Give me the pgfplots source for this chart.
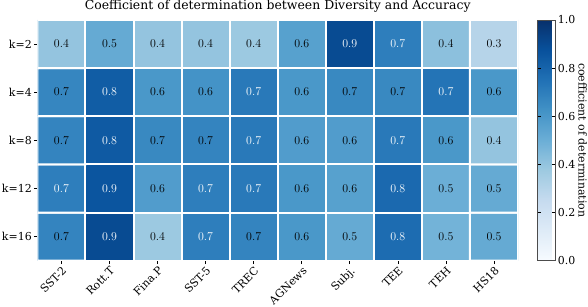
\documentclass[border=0pt]{standalone}
\usepackage{pgfplots}
\pgfplotsset{compat=1.18}
\usepackage{fontspec}
\setmainfont{DejaVu Serif}
\pgfplotsset{colormap={mblues}{rgb255=(247,251,255) rgb255=(222,235,247) rgb255=(198,219,239) rgb255=(158,202,225) rgb255=(107,174,214) rgb255=(66,146,198) rgb255=(33,113,181) rgb255=(8,81,156) rgb255=(8,48,107)}}
\begin{document}
\begin{tikzpicture}
\begin{axis}[
  at={(0,0)}, anchor=south west,
  scale only axis,
  width=483pt, height=242pt,
  xmin=-0.5, xmax=9.5, ymin=-0.5, ymax=4.5,
  colormap name=mblues,
  point meta min=0, point meta max=1,
  axis line style={draw=none},
  xtick={0,...,9},
  xticklabels={SST-2,Rott.T,Fina.P,SST-5,TREC,AGNews,Subj.,TEE,TEH,HS18},
  ytick={0,...,4},
  yticklabels={k=16,k=12,k=8,k=4,k=2},
  xtick pos=bottom, ytick pos=left,
  tick align=outside,
  major tick length=3.5pt,
  tick style={black, line width=0.6pt},
  xticklabel style={rotate=45, anchor=north east, font=\fontsize{11}{13}\selectfont, inner sep=1pt},
  yticklabel style={font=\fontsize{11}{13}\selectfont, inner sep=2pt},
  title={Coefficient of determination between Diversity and Accuracy},
  title style={font=\fontsize{12.5}{15}\selectfont, at={(0.5,1)}, anchor=base, yshift=4.5pt, inner sep=0pt},
  colorbar,
  colorbar style={
    at={(parent axis.north east)}, anchor=north west, xshift=11pt,
    width=18.4pt,
    ytick={0,0.2,...,1.0},
    yticklabel style={/pgf/number format/.cd, fixed, precision=1, fixed zerofill, /tikz/.cd, font=\fontsize{11}{13}\selectfont, inner sep=2pt},
    /pgf/number format/assume math mode=true,
    major tick length=3.5pt,
    tick style={black, line width=0.6pt},
    axis line style={draw=black!70, line width=0.7pt},
    ylabel={coefficient of determination},
    ylabel style={rotate=180, font=\fontsize{11}{13}\selectfont, inner sep=1pt},
  },
]
\addplot[matrix plot*, mesh/cols=10, point meta=explicit, draw=white, line width=2pt]
table[meta=c] {
x y c
0 0 0.68
1 0 0.90
2 0 0.38
3 0 0.70
4 0 0.68
5 0 0.60
6 0 0.52
7 0 0.77
8 0 0.48
9 0 0.52
0 1 0.70
1 1 0.86
2 1 0.58
3 1 0.70
4 1 0.72
5 1 0.60
6 1 0.56
7 1 0.78
8 1 0.50
9 1 0.52
0 2 0.68
1 2 0.84
2 2 0.66
3 2 0.68
4 2 0.72
5 2 0.58
6 2 0.58
7 2 0.72
8 2 0.60
9 2 0.40
0 3 0.67
1 3 0.83
2 3 0.60
3 3 0.62
4 3 0.72
5 3 0.60
6 3 0.66
7 3 0.66
8 3 0.74
9 3 0.60
0 4 0.40
1 4 0.52
2 4 0.40
3 4 0.40
4 4 0.38
5 4 0.56
6 4 0.90
7 4 0.70
8 4 0.42
9 4 0.30
};
\addplot[draw=none, mark=none,
  visualization depends on={value \thisrow{c} \as \cval},
  nodes near coords={\ifdim\cval pt>0.69pt\color{white}\fi\pgfmathprintnumber[fixed,precision=1,fixed zerofill]{\cval}},
  nodes near coords align=center,
  every node near coord/.append style={font=\fontsize{12}{14}\selectfont, anchor=center},
]
table {
x y c
0 0 0.68
1 0 0.90
2 0 0.38
3 0 0.70
4 0 0.68
5 0 0.60
6 0 0.52
7 0 0.77
8 0 0.48
9 0 0.52
0 1 0.70
1 1 0.86
2 1 0.58
3 1 0.70
4 1 0.72
5 1 0.60
6 1 0.56
7 1 0.78
8 1 0.50
9 1 0.52
0 2 0.68
1 2 0.84
2 2 0.66
3 2 0.68
4 2 0.72
5 2 0.58
6 2 0.58
7 2 0.72
8 2 0.60
9 2 0.40
0 3 0.67
1 3 0.83
2 3 0.60
3 3 0.62
4 3 0.72
5 3 0.60
6 3 0.66
7 3 0.66
8 3 0.74
9 3 0.60
0 4 0.40
1 4 0.52
2 4 0.40
3 4 0.40
4 4 0.38
5 4 0.56
6 4 0.90
7 4 0.70
8 4 0.42
9 4 0.30
};
\end{axis}
\end{tikzpicture}
\end{document}
